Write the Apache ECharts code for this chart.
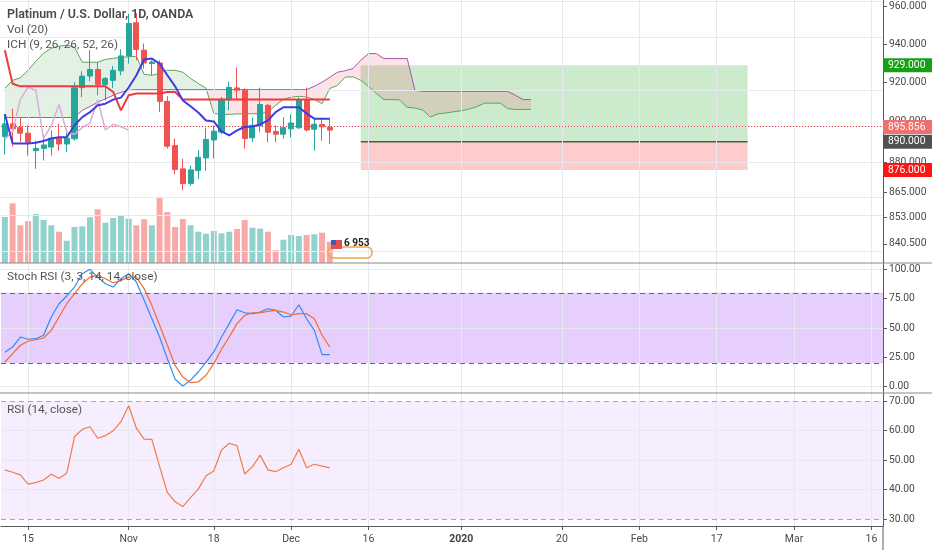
<!DOCTYPE html>
<html><head><meta charset="utf-8">
<script src="https://cdn.jsdelivr.net/npm/echarts@6/dist/echarts.min.js"></script>
<style>html,body{margin:0;padding:0;background:#fff}#c{width:932px;height:550px}</style>
</head><body><div id="c"></div>
<script>
// ---------- data ----------
const categories = (function () {
  const out = []; let d = new Date(Date.UTC(2019, 9, 10));
  while (out.length < 114) { const w = d.getUTCDay(); if (w !== 0 && w !== 6) out.push(d.toISOString().slice(0, 10)); d = new Date(d.getTime() + 86400000); }
  return out;
})();
const xTickLabels = {'2019-10-15':'15','2019-11-01':'Nov','2019-11-18':'18','2019-12-02':'Dec','2019-12-16':'16','2020-01-01':'2020','2020-01-20':'20','2020-02-03':'Feb','2020-02-17':'17','2020-03-02':'Mar','2020-03-16':'16'};

const open  = [892.6,899.0,897.1,894.3,885.6,886.7,887.4,891.8,888.9,891.5,917.4,923.4,926.8,919.1,921.2,926.1,933.9,951.4,936.9,929.9,930.2,910.4,888.1,876.6,869.5,875.75,882.0,890.9,894.8,911.2,917.3,916.1,892.0,898.0,908.4,895.2,893.8,896.5,897.0,911.2,896.3,898.7,897.2];
const close = [899.0,896.5,894.3,889.8,886.7,888.4,891.8,888.9,891.8,917.4,923.4,926.8,919.1,922.1,926.4,933.9,951.0,937.3,930.2,930.7,910.4,887.8,876.3,869.4,876.1,882.3,891.2,895.3,911.4,917.6,916.1,891.6,898.2,908.8,894.8,893.8,897.1,899.4,911.2,895.9,898.8,897.5,895.856];
const high  = [904.1,906.6,901.9,898.2,890.6,893.7,895.7,899.0,896.5,920.3,925.9,936.9,930.7,922.9,928.7,937.3,956.1,956.5,940.4,931.6,931.6,913.0,891.6,881.5,878.2,885.8,897.0,898.2,912.6,920.5,927.9,917.1,902.2,917.4,909.1,898.2,902.4,903.8,912.5,917.4,901.7,902.0,901.5];
const low   = [883.6,887.6,889.8,883.1,876.6,880.7,883.1,885.6,884.8,890.6,912.6,920.8,913.5,910.9,917.1,923.8,929.9,931.6,927.3,923.8,905.0,886.6,874.1,866.2,868.4,871.6,875.75,881.7,893.8,905.8,911.3,886.6,889.8,894.8,889.8,889.8,891.5,892.1,896.5,895.2,885.6,890.6,888.9];
const volume = [15000,19460,12290,13690,15970,14020,12290,10200,7270,11740,11960,14900,17500,13140,14670,15320,14440,12290,14250,12290,21190,16630,11740,14340,12290,10200,9550,10430,9680,10200,11080,14020,11510,11180,10200,4140,7600,9130,8800,9130,9360,9880,6953];

const tenkan = [903.8,889.2,889.2,889.2,889.5,890.4,891.7,892.3,892.3,898.2,902.4,904.9,908.4,909.2,911.3,912.3,917.5,923.8,932.0,932.5,929.9,923.8,918.1,910.9,907.9,904.7,900.7,900.2,895.2,893.2,895.7,897.4,897.7,898.7,900.7,904.9,907.4,907.4,907.4,904.2,901.6,901.6,901.6];
const kijun = [936.9,919.4,918.1,918.1,918.1,918.1,918.1,918.1,918.1,918.1,918.1,918.1,918.1,918.1,915.2,905.8,913.5,914.4,914.4,914.4,914.4,915.2,915.2,911.3,911.3,911.3,911.3,911.3,911.3,911.3,911.3,911.3,911.3,911.3,911.3,911.3,911.3,911.3,911.3,911.3,911.3,911.3,911.3];
const spanA = [917.1,921.2,922.5,926.4,931.1,935.3,937.9,939.0,939.5,938.5,930.6,930.6,930.6,932.1,932.6,933.2,933.4,933.7,924.3,923.8,924.8,926.4,926.4,925.4,922.2,919.6,917.1,904.3,903.8,903.8,904.0,904.1,904.1,904.1,904.9,908.4,911.4,912.5,913.0,912.6,911.4,909.2,917.0,918.6,922.9,923.0,921.2,918.1,914.5,911.3,911.3,911.2,907.4,907.0,906.0,902.4,904.1,904.5,905.1,905.6,906.5,907.7,909.5,909.5,909.5,906.7,906.3,906.3,906.3];
const spanB = [902.2,902.2,902.2,902.2,902.2,902.2,902.2,902.2,902.2,902.2,905.8,907.8,910.0,911.7,913.5,915.0,916.05,916.4,916.4,916.4,916.4,916.4,916.4,916.4,916.4,916.4,916.4,916.4,916.4,916.4,916.4,916.4,916.4,916.4,916.4,916.4,916.4,916.4,916.4,916.4,918.1,920.2,922.8,925.4,926.2,927.3,931.6,935.1,935.1,932.5,932.5,932.5,932.5,916.05,915.5,915.5,915.5,915.5,915.5,915.5,915.5,915.5,915.5,915.5,915.5,915.5,913.5,911.3,911.3];
const lagging = [891.2,895.3,911.4,917.6,916.1,891.6,898.2,908.8,894.8,893.8,897.1,899.4,911.2,895.9,898.8,897.5,895.856];

const stochK = [29.4,33.8,42.3,40.4,40.9,43.8,59.4,70.7,77.3,84.9,96.3,100,93.4,87.7,84.9,92,96.3,89.2,73.6,57.9,42.3,23.9,6.3,0.6,5.5,12.5,21,29.6,42.3,53.7,65.6,63,62.2,63.6,66.4,65.1,59.4,60.2,69.8,57.9,48,27.3,27.3];
const stochD = [21,28.1,35.3,38.7,40,41.5,48,59.4,70.7,79.2,87.7,93.4,94.9,92,88.6,90.6,93.4,93.4,83.5,69.3,52.3,35.3,18.2,8.3,3.4,4,9.7,19.6,31.9,42.3,53.7,60.8,63,63,64.2,65.1,63.6,61.3,62.2,62.2,57.9,43.8,33.8];
const rsi = [46.7,45.9,45.0,41.9,42.4,43.3,45.2,43.9,45.6,57.9,60.4,61.3,57.4,58.3,59.9,63.0,68.4,60.8,57.1,57.0,47.8,39.1,35.9,34.3,37.3,40.2,44.7,46.3,53.4,55.7,54.9,45.3,47.8,51.7,46.7,46.1,47.4,48.6,53.7,47.4,48.6,48.0,47.4];

const priceTicks = [960, 940, 920, 900, 880, 865, 853, 840.5];
const stochTicks = [0, 25, 50, 75, 100];
const rsiTicks = [30, 40, 50, 60, 70];
const stochBand = [20, 80];
const rsiBand = [30, 70];
const lastPrice = 895.856;
const lastVolumeText = '6 953';
const positionTool = { startIndex: 46, endIndex: 96, entry: 890, target: 929, stop: 876 };

// ---------- layout / style ----------
const LN = Math.log;
const priceAxisMin = 831.55, priceAxisMax = 963.62;
const volAxisMax = 85740;
const FONT = 'Roboto';
const GRIDC = '#e7e9f0';
const AXC = '#5a5a5a';
const TXT = '#4a4a4a';
const UP = '#26a69a', DN = '#ef5350';
const xTickDates = Object.keys(xTickLabels);

const chart = echarts.init(document.getElementById('c'));

function xAxisHidden(g) {
  return { type: 'category', gridIndex: g, data: categories, boundaryGap: true,
    axisLine: { show: false }, axisTick: { show: false }, axisLabel: { show: false }, splitLine: { show: false } };
}
function gridLineSeries(xi, yi, yValues) {
  return { type: 'line', xAxisIndex: xi, yAxisIndex: yi, data: categories.map(() => '-'), silent: true, z: 0,
    symbol: 'none', lineStyle: { width: 0 },
    markLine: { silent: true, symbol: ['none', 'none'], label: { show: false }, animation: false,
      lineStyle: { color: GRIDC, width: 1, type: 'solid' },
      data: yValues.map(v => ({ yAxis: v })).concat(xTickDates.map(d => ({ xAxis: d }))) } };
}

function cloudRender(params, api) {
  const n = Math.min(spanA.length, spanB.length);
  const pt = (i, v) => api.coord([i, LN(v)]);
  const children = [];
  let run = null;
  function pushRun() {
    if (run && run.top.length > 1) {
      children.push({ type: 'polygon', shape: { points: run.top.concat(run.bot.slice().reverse()) },
        style: { fill: run.up ? 'rgba(67,160,71,0.15)' : 'rgba(240,60,90,0.15)' } });
    }
  }
  for (let i = 0; i < n; i++) {
    const up = spanA[i] >= spanB[i];
    const pa = pt(i, spanA[i]), pb = pt(i, spanB[i]);
    if (!run) { run = { up, top: [pa], bot: [pb] }; continue; }
    if (up !== run.up) {
      const d0 = LN(spanA[i - 1]) - LN(spanB[i - 1]), d1 = LN(spanA[i]) - LN(spanB[i]);
      const t = d0 / (d0 - d1);
      const pa0 = run.top[run.top.length - 1];
      const c = [pa0[0] + (pa[0] - pa0[0]) * t, pa0[1] + (pa[1] - pa0[1]) * t];
      run.top.push(c); run.bot.push(c); pushRun();
      run = { up, top: [c, pa], bot: [c, pb] };
    } else { run.top.push(pa); run.bot.push(pb); }
  }
  pushRun();
  return { type: 'group', children };
}

function positionRender(params, api) {
  const p = positionTool;
  const tl = api.coord([p.startIndex, LN(p.target)]);
  const me = api.coord([p.endIndex, LN(p.entry)]);
  const bs = api.coord([p.endIndex, LN(p.stop)]);
  return { type: 'group', children: [
    { type: 'rect', shape: { x: tl[0], y: tl[1], width: me[0] - tl[0], height: me[1] - tl[1] }, style: { fill: 'rgba(0,150,0,0.2)' } },
    { type: 'rect', shape: { x: tl[0], y: me[1], width: me[0] - tl[0], height: bs[1] - me[1] }, style: { fill: 'rgba(255,0,0,0.2)' } },
    { type: 'line', shape: { x1: tl[0], y1: me[1], x2: me[0], y2: me[1] }, style: { stroke: '#555555', lineWidth: 1.5 } }
  ] };
}

function priceLine(data, color, width, z) {
  return { type: 'line', xAxisIndex: 0, yAxisIndex: 0, data: data.map(LN), symbol: 'none', showSymbol: false,
    lineStyle: { color, width }, z: z || 6, silent: true };
}

const option = {
  animation: false,
  textStyle: { fontFamily: FONT },
  grid: [
    { left: 1, width: 882, top: 0, height: 263 },
    { left: 1, width: 882, top: 263, height: 130 },
    { left: 1, width: 882, top: 393, height: 133 }
  ],
  xAxis: [
    xAxisHidden(0), xAxisHidden(1),
    { type: 'category', gridIndex: 2, data: categories, boundaryGap: true,
      axisLine: { show: true, lineStyle: { color: AXC, width: 1 } },
      axisTick: { show: true, alignWithLabel: true, length: 4, interval: (i, v) => xTickLabels[v] !== undefined, lineStyle: { color: AXC } },
      axisLabel: { interval: (i, v) => xTickLabels[v] !== undefined, color: TXT, fontSize: 10.5, margin: 8, fontFamily: FONT,
        formatter: v => v === '2020-01-01' ? '{b|' + xTickLabels[v] + '}' : (xTickLabels[v] || ''),
        rich: { b: { fontWeight: 'bold', color: '#444', fontSize: 10.5, fontFamily: FONT } } },
      splitLine: { show: false } }
  ],
  yAxis: [
    { type: 'value', gridIndex: 0, position: 'right', min: LN(priceAxisMin), max: LN(priceAxisMax),
      axisLine: { show: true, lineStyle: { color: AXC } },
      axisTick: { show: true, length: 4, customValues: priceTicks.map(LN), lineStyle: { color: AXC } },
      axisLabel: { customValues: priceTicks.map(LN), formatter: v => Math.exp(v).toFixed(3), color: TXT, fontSize: 10.3, margin: 6, fontFamily: FONT },
      splitLine: { show: false } },
    { type: 'value', gridIndex: 0, min: 0, max: volAxisMax, show: false, splitLine: { show: false } },
    { type: 'value', gridIndex: 1, position: 'right', min: -5.4, max: 105.4,
      axisLine: { show: true, lineStyle: { color: AXC } },
      axisTick: { show: true, length: 4, customValues: stochTicks, lineStyle: { color: AXC } },
      axisLabel: { customValues: stochTicks, formatter: v => v.toFixed(2), color: TXT, fontSize: 10.3, margin: 6, fontFamily: FONT },
      splitLine: { show: false } },
    { type: 'value', gridIndex: 2, position: 'right', min: 27.73, max: 72.7,
      axisLine: { show: true, lineStyle: { color: AXC } },
      axisTick: { show: true, length: 4, customValues: rsiTicks, lineStyle: { color: AXC } },
      axisLabel: { customValues: rsiTicks, formatter: v => v.toFixed(2), color: TXT, fontSize: 10.3, margin: 6, fontFamily: FONT },
      splitLine: { show: false } }
  ],
  series: [
    gridLineSeries(0, 0, priceTicks.map(LN)),
    gridLineSeries(1, 2, [0, 50, 100]),
    gridLineSeries(2, 3, [40, 50, 60]),
    { type: 'bar', name: 'Vol', xAxisIndex: 0, yAxisIndex: 1, barWidth: 6, z: 1, silent: true,
      data: volume.map((v, i) => ({ value: v, itemStyle: { color: close[i] >= open[i] ? 'rgba(38,166,154,0.5)' : 'rgba(239,83,80,0.5)' } })) },
    { type: 'custom', name: 'Position', xAxisIndex: 0, yAxisIndex: 0, z: 2, silent: true, data: [[0, LN(900)]], renderItem: positionRender },
    { type: 'custom', name: 'Cloud', xAxisIndex: 0, yAxisIndex: 0, z: 3, silent: true, data: [[0, LN(900)]], renderItem: cloudRender },
    { type: 'candlestick', name: 'XPTUSD', xAxisIndex: 0, yAxisIndex: 0, z: 5, barWidth: 5.6, silent: true,
      data: open.map((o, i) => [LN(o), LN(close[i]), LN(low[i]), LN(high[i])]),
      itemStyle: { color: UP, color0: DN, borderColor: UP, borderColor0: DN, borderWidth: 1 },
      markLine: { silent: true, symbol: ['none', 'none'], label: { show: false }, animation: false,
        lineStyle: { color: '#e53935', width: 1, type: [1, 2] }, data: [{ yAxis: LN(lastPrice) }] } },
    priceLine(spanA, '#5aa55a', 1, 4),
    priceLine(spanB, '#a455a8', 1, 4),
    priceLine(lagging, '#d8aedb', 1.5),
    priceLine(kijun, '#ee3b3b', 2),
    priceLine(tenkan, '#3d3de0', 2),
    { type: 'line', name: 'K', xAxisIndex: 1, yAxisIndex: 2, data: stochK, symbol: 'none', lineStyle: { color: '#2f8cf0', width: 1.2 }, z: 5, silent: true,
      markArea: { silent: true, itemStyle: { color: 'rgba(150,50,245,0.24)' }, data: [[{ yAxis: stochBand[0] }, { yAxis: stochBand[1] }]] },
      markLine: { silent: true, symbol: ['none', 'none'], label: { show: false }, animation: false,
        lineStyle: { color: '#6f6178', width: 1, type: [5, 4] }, data: stochBand.map(v => ({ yAxis: v })) } },
    { type: 'line', name: 'D', xAxisIndex: 1, yAxisIndex: 2, data: stochD, symbol: 'none', lineStyle: { color: '#f26b2f', width: 1.2 }, z: 5, silent: true },
    { type: 'line', name: 'RSI', xAxisIndex: 2, yAxisIndex: 3, data: rsi, symbol: 'none', lineStyle: { color: '#f47b48', width: 1.2 }, z: 5, silent: true,
      markArea: { silent: true, itemStyle: { color: 'rgba(150,50,245,0.09)' }, data: [[{ yAxis: rsiBand[0] }, { yAxis: rsiBand[1] }]] },
      markLine: { silent: true, symbol: ['none', 'none'], label: { show: false }, animation: false,
        lineStyle: { color: '#a9a6b3', width: 1, type: [5, 4] }, data: rsiBand.map(v => ({ yAxis: v })) } }
  ]
};
chart.setOption(option);

// ---------- overlays: legends, separators, price tags ----------
const yOf = v => chart.convertToPixel({ yAxisIndex: 0 }, LN(v));
const tags = [
  { v: positionTool.target, bg: '#16a016', dy: 0 },
  { v: lastPrice, bg: '#f07070', dy: -3 },
  { v: positionTool.entry, bg: '#505050', dy: 0 },
  { v: positionTool.stop, bg: '#ff1414', dy: 0 }
];
const axisX = 883;
const graphics = [
  { type: 'line', shape: { x1: 0, y1: 263, x2: 932, y2: 263 }, style: { stroke: '#8a8a8a', lineWidth: 1.2 }, z: 50 },
  { type: 'line', shape: { x1: 0, y1: 393, x2: 932, y2: 393 }, style: { stroke: '#8a8a8a', lineWidth: 1.2 }, z: 50 },
  { type: 'line', shape: { x1: axisX, y1: 526, x2: axisX, y2: 550 }, style: { stroke: AXC, lineWidth: 1 }, z: 50 },
  { type: 'text', x: 7, y: 15, style: { text: 'Platinum / U.S. Dollar, 1D, OANDA', font: '600 12.4px Roboto', fill: '#4a4a4a', verticalAlign: 'middle' }, z: 60 },
  { type: 'text', x: 7, y: 30.5, style: { text: 'Vol (20)', font: '11.8px Roboto', fill: '#555', verticalAlign: 'middle' }, z: 60 },
  { type: 'text', x: 7, y: 45.5, style: { text: 'ICH (9, 26, 26, 52, 26)', font: '11.8px Roboto', fill: '#555', verticalAlign: 'middle' }, z: 60 },
  { type: 'text', x: 7, y: 277, style: { text: 'Stoch RSI (3, 3, 14, 14, close)', font: '11.8px Roboto', fill: '#555', verticalAlign: 'middle' }, z: 60 },
  { type: 'text', x: 7, y: 410, style: { text: 'RSI (14, close)', font: '11.8px Roboto', fill: '#555', verticalAlign: 'middle' }, z: 60 },
  // last-volume badge
  { type: 'rect', shape: { x: 328, y: 247, width: 44, height: 11, r: 5 }, style: { fill: 'rgba(255,255,255,0)', stroke: '#f5a04a', lineWidth: 1.5 }, z: 55 },
  { type: 'rect', shape: { x: 331, y: 240, width: 11, height: 9 }, style: { fill: '#e05050' }, z: 56 },
  { type: 'rect', shape: { x: 331, y: 240, width: 5, height: 5 }, style: { fill: '#3a5fb0' }, z: 57 },
  { type: 'text', x: 344, y: 243.5, style: { text: lastVolumeText, font: 'bold 10px Roboto', fill: '#222', verticalAlign: 'middle' }, z: 60 }
];
tags.forEach(t => {
  const y = yOf(t.v) + t.dy;
  graphics.push({ type: 'rect', shape: { x: axisX, y: y - 7, width: 932 - axisX, height: 14 }, style: { fill: t.bg }, z: 70 });
  graphics.push({ type: 'text', x: 888, y: y, style: { text: t.v.toFixed(3), font: '10.3px Roboto', fill: '#ffffff', verticalAlign: 'middle' }, z: 71 });
});
chart.setOption({ graphic: graphics });
</script>
</body></html>
